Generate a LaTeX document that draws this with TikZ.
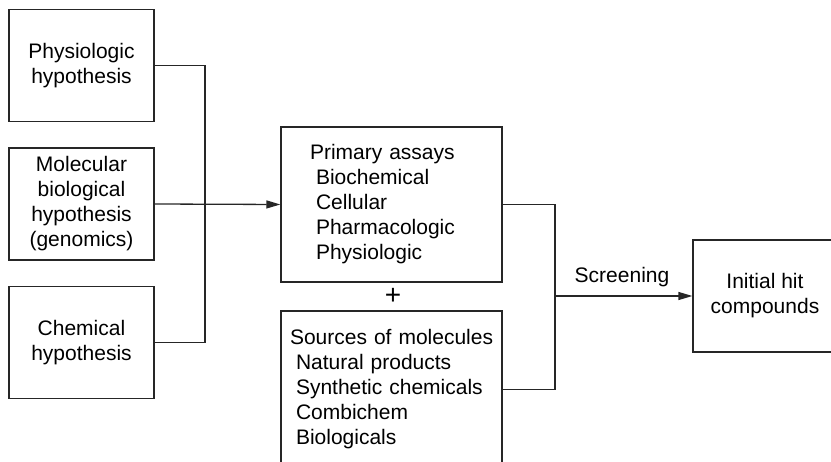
\documentclass[tikz,border=0pt]{standalone}
\usepackage{fontspec}
\setmainfont{Liberation Sans}
\usetikzlibrary{arrows.meta}
\begin{document}
\begin{tikzpicture}[x=1pt,y=-1pt,
  every node/.style={font=\fontsize{21}{25}\selectfont, text=black},
  box/.style={draw=black!85, line width=1.3pt, align=center, inner sep=0pt},
  listbox/.style={box, align=left, inner xsep=0pt, text width=221pt, minimum width=221pt},
  link/.style={draw=black!85, line width=1.3pt},
  arr/.style={link, -{Triangle[length=14pt,width=8pt]}}]
\useasboundingbox (0,0) rectangle (831,462);
\clip (0,0) rectangle (831,462);

% hypotheses on the left
\node[box, minimum width=145pt, minimum height=112pt] (phys) at (81.5,65.5) {Physiologic\\hypothesis};
\node[box, minimum width=145pt, minimum height=112pt] (mol) at (81.5,204) {Molecular\\biological\\hypothesis\\(genomics)};
\node[box, minimum width=145pt, minimum height=112pt] (chem) at (81.5,342.5) {Chemical\\hypothesis};

% assays and molecule sources
\node[listbox, minimum height=155pt] (assay) at (391.5,204.5)
  {\hspace*{29pt}Primary assays\\\hspace*{35pt}Biochemical\\\hspace*{35pt}Cellular\\\hspace*{35pt}Pharmacologic\\\hspace*{35pt}Physiologic};
\node[font=\fontsize{28}{28}\selectfont] (plus) at (393,296) {+};
\node[listbox, minimum height=157pt] (src) at (391.5,389.5)
  {\hspace*{9pt}Sources of molecules\\\hspace*{15pt}Natural products\\\hspace*{15pt}Synthetic chemicals\\\hspace*{15pt}Combichem\\\hspace*{15pt}Biologicals};

% result
\node[box, minimum width=144pt, minimum height=112pt] (hit) at (765,296) {Initial hit\\compounds};

% junction points
\coordinate (jl) at (205,204);
\coordinate (jr) at (555,296);

% connectors
\draw[link] (phys.east) -| (jl);
\draw[link] (chem.east) -| (jl);
\draw[arr] (mol.east) -- (assay.west);
\draw[link] (assay.east) -| (jr);
\draw[link] (src.east) -| (jr);
\draw[arr] (jr) -- (hit.west);
\node (lbl) at (622,277) {Screening};
\end{tikzpicture}
\end{document}
